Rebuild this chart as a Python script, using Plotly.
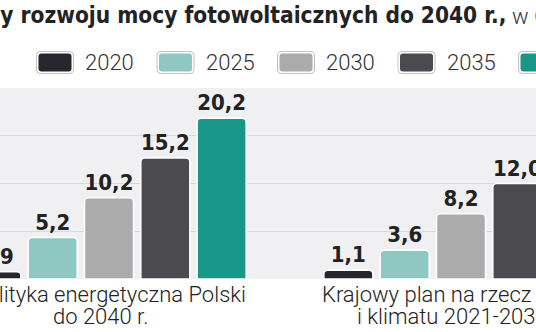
import plotly.graph_objects as go

# ---- data ----
categories = ["Polityka energetyczna Polski<br>do 2040 r.",
              "Krajowy plan na rzecz energii<br>i klimatu 2021-2030"]
series = ["2020", "2025", "2030", "2035", "2040"]
v2020 = [0.9, 1.1]
v2025 = [5.2, 3.6]
v2030 = [10.2, 8.2]
v2035 = [15.2, 12.0]
v2040 = [20.2, None]
values = [v2020, v2025, v2030, v2035, v2040]
colors = ["#27252e", "#8fc8c2", "#ababab", "#4b4a4f", "#1b978a"]
title_bold = "Prognozy rozwoju mocy fotowoltaicznych do 2040 r.,"
title_rest = "w GW"

W, H = 536, 332
ML, MR, MT, MB = 0, 0, 88, 53
PH = H - MT - MB

def fmt(v):
    return "" if v is None else f"{v:.1f}".replace(".", ",")

fig = go.Figure()
for name, vals, col in zip(series, values, colors):
    fig.add_trace(go.Bar(
        name=name, x=categories, y=vals,
        text=[fmt(v) for v in vals], textposition="outside",
        textfont=dict(family="DejaVu Sans Condensed", size=22, color="#222222", weight="bold"),
        marker=dict(color=col, line=dict(color="white", width=1.5), cornerradius=4),
        cliponaxis=True, showlegend=False, hoverinfo="skip",
    ))

def px2x(p):
    return p / W

def py2y(p):
    return (H - MB - p) / PH

def rrect(x0, y0, x1, y1, r):
    rx, ry = r / W, r / PH
    X0, X1 = px2x(x0), px2x(x1)
    Y0, Y1 = py2y(y0), py2y(y1)  # Y0 top, Y1 bottom
    return (f"M{X0+rx},{Y0} L{X1-rx},{Y0} Q{X1},{Y0} {X1},{Y0-ry} "
            f"L{X1},{Y1+ry} Q{X1},{Y1} {X1-rx},{Y1} L{X0+rx},{Y1} "
            f"Q{X0},{Y1} {X0},{Y1+ry} L{X0},{Y0-ry} Q{X0},{Y0} {X0+rx},{Y0} Z")

shapes = []
annotations = []
# custom legend
for i, (name, col) in enumerate(zip(series, colors)):
    bx = 36 + i * 120.5
    shapes.append(dict(type="path", xref="paper", yref="paper",
                       path=rrect(bx, 51, bx + 38, 74, 5),
                       fillcolor="#c4c4c4", line=dict(width=0)))
    shapes.append(dict(type="path", xref="paper", yref="paper",
                       path=rrect(bx + 1, 52, bx + 37, 73, 4),
                       fillcolor="white", line=dict(width=0)))
    shapes.append(dict(type="path", xref="paper", yref="paper",
                       path=rrect(bx + 2.5, 53.5, bx + 35.5, 71.5, 3),
                       fillcolor=col, line=dict(width=0)))
    annotations.append(dict(xref="paper", yref="paper", x=px2x(bx + 47), y=py2y(63),
                            xanchor="left", yanchor="middle", showarrow=False, text=name,
                            font=dict(family="Roboto", size=22, color="#333333", weight=300)))

# title
annotations.append(dict(xref="paper", yref="paper", x=px2x(508), y=py2y(15),
                        xanchor="right", yanchor="middle", showarrow=False, text=title_bold,
                        font=dict(family="DejaVu Sans Condensed", size=22.5, color="#222222", weight="bold")))
annotations.append(dict(xref="paper", yref="paper", x=px2x(510), y=py2y(16),
                        xanchor="left", yanchor="middle", showarrow=False, text=title_rest,
                        font=dict(family="Roboto", size=22, color="#333333", weight=300)))

# category labels
for cat in categories:
    l1, l2 = cat.split("<br>")
    annotations.append(dict(xref="x", yref="paper", x=cat, y=0, yanchor="top", yshift=-1,
                            showarrow=False, text=l1,
                            font=dict(family="Roboto", size=22, color="#222222", weight=300)))
    annotations.append(dict(xref="x", yref="paper", x=cat, y=0, yanchor="top", yshift=-23,
                            xshift=-9, showarrow=False, text=l2,
                            font=dict(family="Roboto", size=22, color="#222222", weight=300)))

fig.update_layout(
    width=W, height=H, margin=dict(l=ML, r=MR, t=MT, b=MB),
    paper_bgcolor="white", plot_bgcolor="#f0f0f2",
    barmode="group", bargap=0.2, bargroupgap=0.13,
    xaxis=dict(range=[-109 / 352, 1 + 75 / 352], showticklabels=False, showgrid=False,
               zeroline=False, showline=False, ticks="", fixedrange=True),
    yaxis=dict(range=[0, 24], dtick=6, showticklabels=False, showgrid=True,
               gridcolor="#d9d9db", gridwidth=1, zeroline=False, showline=False, ticks=""),
    shapes=shapes, annotations=annotations, showlegend=False,
)
fig.update_traces(constraintext="none")

fig.write_html("out.html")
